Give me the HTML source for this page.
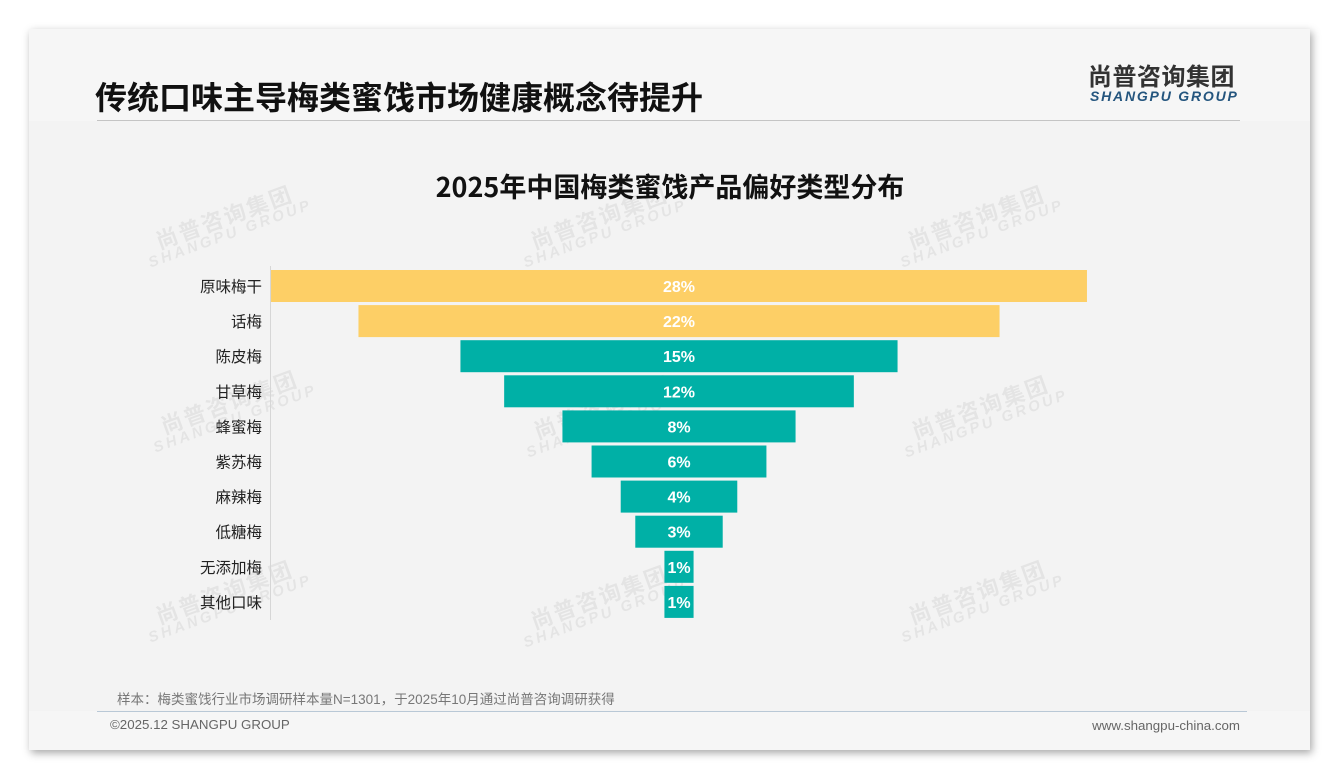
<!DOCTYPE html>
<html><head><meta charset="utf-8"><style>
html,body{margin:0;padding:0;width:1340px;height:780px;background:#fff;overflow:hidden;font-family:"Liberation Sans","Noto Sans CJK SC",sans-serif;}
#card{position:absolute;left:29px;top:29px;width:1281px;height:721px;background:#f3f3f3;box-shadow:2px 3px 8px rgba(0,0,0,0.35);}
#head{position:absolute;left:0;top:0;width:1281px;height:92px;background:#f6f6f6;}
#foot{position:absolute;left:0;top:682px;width:1281px;height:39px;background:#f6f6f6;}
.wm{position:absolute;transform:rotate(-20deg);color:rgba(0,0,0,0.06);font-weight:bold;text-align:center;line-height:1;}
.wm .a{font-size:22px;letter-spacing:2px;font-family:"Noto Sans CJK SC",sans-serif;}
.wm .b{font-size:15px;letter-spacing:3px;font-style:italic;}
</style></head><body>
<div id="card">
<div id="head"></div>
<div id="foot"></div>
</div>
<div style="position:absolute;left:95px;top:75px;font-size:32px;font-weight:bold;color:#111;font-family:'Noto Sans CJK SC',sans-serif;line-height:42px;">传统口味主导梅类蜜饯市场健康概念待提升</div>
<div style="position:absolute;left:97px;top:120px;width:1143px;height:1px;background:#c4c4c4;"></div>
<div style="position:absolute;left:1088px;top:61px;font-size:24px;font-weight:bold;color:#333;letter-spacing:0.5px;font-family:'Noto Sans CJK SC',sans-serif;line-height:28px;">尚普咨询集团</div>
<div style="position:absolute;left:1090px;top:87px;font-size:14px;font-weight:bold;font-style:italic;color:#24557e;letter-spacing:1.8px;line-height:18px;">SHANGPU GROUP</div>
<div style="position:absolute;left:0;width:1340px;text-align:center;top:168px;font-size:27px;font-weight:bold;color:#111;font-family:'Noto Sans CJK SC',sans-serif;line-height:36px;">2025年中国梅类蜜饯产品偏好类型分布</div>
<div id="wms"></div>
<svg id="chart" width="1340" height="780" style="position:absolute;left:0;top:0;"></svg>
<div style="position:absolute;left:117px;top:688px;font-size:13.5px;color:#777;">样本：梅类蜜饯行业市场调研样本量N=1301，于2025年10月通过尚普咨询调研获得</div>
<div style="position:absolute;left:97px;top:711px;width:1150px;height:1px;background:#b9c8d6;"></div>
<div style="position:absolute;left:110px;top:717px;font-size:13.3px;color:#666;">©2025.12 SHANGPU GROUP</div>
<div style="position:absolute;right:100px;top:718px;font-size:13.3px;color:#666;">www.shangpu-china.com</div>
<script>
const categories=["原味梅干","话梅","陈皮梅","甘草梅","蜂蜜梅","紫苏梅","麻辣梅","低糖梅","无添加梅","其他口味"];
const values=[28,22,15,12,8,6,4,3,1,1];
const labels=["28%","22%","15%","12%","8%","6%","4%","3%","1%","1%"];
const highlight=[true,true,false,false,false,false,false,false,false,false];
const NS="http://www.w3.org/2000/svg";
const svg=document.getElementById('chart');
const cx=679, pxPer=29.14, y0=270, step=35.1, bh=32;
function w(v){return v*pxPer;}
function y(i){return y0+i*step;}
const ax=document.createElementNS(NS,'line');
ax.setAttribute('x1',270.5);ax.setAttribute('x2',270.5);ax.setAttribute('y1',266);ax.setAttribute('y2',620);
ax.setAttribute('stroke','#d6d6d6');


svg.appendChild(ax);
categories.forEach((c,i)=>{
  const r=document.createElementNS(NS,'rect');
  r.setAttribute('x',cx-w(values[i])/2);r.setAttribute('y',y(i));
  r.setAttribute('width',w(values[i]));r.setAttribute('height',bh);
  r.setAttribute('fill',highlight[i]?'#fdcf66':'#00b0a6');
  
  
  svg.appendChild(r);
  const t=document.createElementNS(NS,'text');
  t.setAttribute('x',cx);t.setAttribute('y',y(i)+bh/2+6);
  t.setAttribute('text-anchor','middle');t.setAttribute('fill','#fff');
  t.setAttribute('font-size','16');t.setAttribute('font-weight','bold');
  t.setAttribute('font-family','Liberation Sans, sans-serif');
  t.textContent=labels[i];
  
  
  svg.appendChild(t);
  const l=document.createElementNS(NS,'text');
  l.setAttribute('x',262);l.setAttribute('y',y(i)+bh/2+6);
  l.setAttribute('text-anchor','end');l.setAttribute('fill','#222');
  l.setAttribute('font-size','15.5');
  l.setAttribute('font-family','Liberation Sans, Noto Sans CJK SC, sans-serif');
  l.textContent=c;
  
  
  svg.appendChild(l);
});
const wmPos=[[140,205],[515,205],[892,205],[145,390],[518,395],[896,395],[140,580],[515,585],[893,580]];
const wmBox=document.getElementById('wms');
wmPos.forEach(p=>{
  const d=document.createElement('div');
  d.className='wm';d.style.left=p[0]+'px';d.style.top=p[1]+'px';
  d.innerHTML='<div class="a">尚普咨询集团</div><div class="b">SHANGPU GROUP</div>';
  
  
  wmBox.appendChild(d);
});
</script>
</body></html>
